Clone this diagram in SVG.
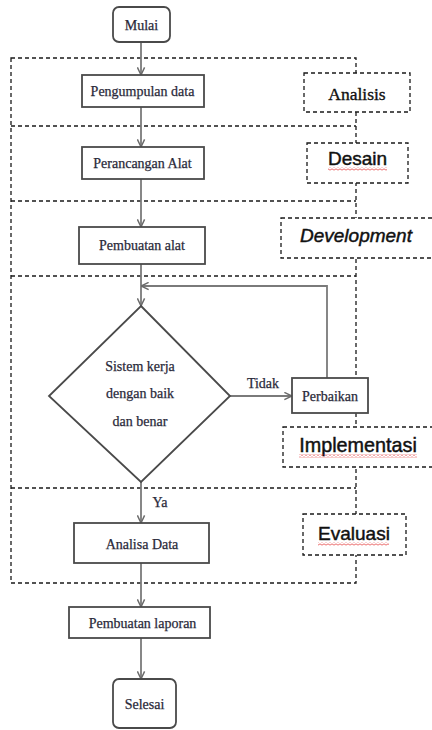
<svg xmlns="http://www.w3.org/2000/svg" width="432" height="730" viewBox="0 0 432 730">
<style>
.node{fill:#fff;stroke:#4a4a4a;stroke-width:1.8}
.nt{font-family:"Liberation Serif","Times New Roman",serif;font-size:14px;fill:#2a2a3a;stroke:#2a2a3a;stroke-width:0.25;text-anchor:middle}
.dash{fill:none;stroke:#1a1a1a;stroke-width:1.3;stroke-dasharray:4 3}
.phase{fill:#fff;stroke:#1a1a1a;stroke-width:1.3;stroke-dasharray:4 3}
.pt{font-family:"Liberation Sans",Arial,sans-serif;font-size:19px;fill:#111;stroke:#111;stroke-width:0.45;text-anchor:middle}
.conn{fill:none;stroke:#7a7a7a;stroke-width:1.8}
.lbl{font-family:"Liberation Serif","Times New Roman",serif;font-size:14px;fill:#2a2a3a;stroke:#2a2a3a;stroke-width:0.25;text-anchor:middle}
</style>
<defs>
<marker id="arr" viewBox="0 0 10 10" refX="9.5" refY="5" markerWidth="9" markerHeight="9" markerUnits="userSpaceOnUse" orient="auto">
<path d="M1,1 L9.5,5 L1,9" fill="none" stroke="#6a6a6a" stroke-width="1.6"/>
</marker>
<pattern id="squig" width="4" height="3" patternUnits="userSpaceOnUse">
<path d="M0,0.5 L2,2.5 L4,0.5" fill="none" stroke="#e02020" stroke-width="0.9"/>
</pattern>
</defs>
<rect width="432" height="730" fill="#fff"/>

<g id="regions">
<path class="dash" d="M11,58 V583 H356 V58 Z"/>
<path class="dash" d="M11,126 H356 M11,201 H356 M11,276 H356 M11,488 H356"/>
</g>

<g id="connectors">
<path class="conn" d="M141,42 V75" marker-end="url(#arr)"/>
<path class="conn" d="M141,107 V147" marker-end="url(#arr)"/>
<path class="conn" d="M141,179 V227" marker-end="url(#arr)"/>
<path class="conn" d="M141,264 V306" marker-end="url(#arr)"/>
<path class="conn" d="M230,396 H292" marker-end="url(#arr)"/>
<path class="conn" d="M327,378 V286 H141" marker-end="url(#arr)"/>
<path class="conn" d="M141,482 V523" marker-end="url(#arr)"/>
<path class="conn" d="M141,563 V607" marker-end="url(#arr)"/>
<path class="conn" d="M141,638 V679" marker-end="url(#arr)"/>
<text class="lbl" x="263" y="388">Tidak</text>
<text class="lbl" x="160" y="507">Ya</text>
</g>

<g id="mulai">
<rect class="node" x="113" y="7" width="57" height="35" rx="6"/>
<text class="nt" x="141.5" y="30">Mulai</text>
</g>
<g id="pengumpulan">
<rect class="node" x="82" y="75" width="122" height="32"/>
<text class="nt" x="142.5" y="96">Pengumpulan data</text>
</g>
<g id="perancangan">
<rect class="node" x="82" y="147" width="122" height="32"/>
<text class="nt" x="142.5" y="168">Perancangan Alat</text>
</g>
<g id="pembuatan-alat">
<rect class="node" x="79" y="227" width="126" height="37"/>
<text class="nt" x="142" y="250">Pembuatan alat</text>
</g>
<g id="keputusan">
<polygon class="node" points="141,306 230,396 141,482 49,396"/>
<text class="nt" x="140" y="371">Sistem kerja</text>
<text class="nt" x="140" y="398">dengan baik</text>
<text class="nt" x="140" y="426">dan benar</text>
</g>
<g id="perbaikan">
<rect class="node" x="292" y="378" width="76" height="35"/>
<text class="nt" x="330" y="401">Perbaikan</text>
</g>
<g id="analisa-data">
<rect class="node" x="74" y="523" width="135" height="40"/>
<text class="nt" x="142" y="549">Analisa Data</text>
</g>
<g id="pembuatan-laporan">
<rect class="node" x="69" y="607" width="141" height="31"/>
<text class="nt" x="142.5" y="628">Pembuatan laporan</text>
</g>
<g id="selesai">
<rect class="node" x="113" y="679" width="63" height="49" rx="6"/>
<text class="nt" x="144.5" y="709">Selesai</text>
</g>

<g id="analisis">
<rect class="phase" x="304" y="73" width="106" height="39"/>
<text x="357" y="100" style="font-family:'Liberation Serif','Times New Roman',serif;font-size:17.5px;fill:#111;stroke:#111;stroke-width:0.35;text-anchor:middle">Analisis</text>
</g>
<g id="desain">
<rect class="phase" x="307" y="143" width="101" height="40"/>
<text class="pt" x="357.5" y="165">Desain</text>
<rect x="328" y="167.5" width="59" height="3" fill="url(#squig)"/>
</g>
<g id="development">
<rect class="phase" x="281" y="218" width="160" height="40"/>
<text class="pt" x="356" y="242" font-style="italic">Development</text>
</g>
<g id="implementasi">
<rect class="phase" x="283" y="427" width="160" height="40"/>
<text class="pt" x="358" y="452" style="font-size:19.8px">Implementasi</text>
<rect x="299" y="454.5" width="118" height="3" fill="url(#squig)"/>
</g>
<g id="evaluasi">
<rect class="phase" x="303" y="514" width="103" height="41"/>
<text class="pt" x="354" y="540">Evaluasi</text>
<rect x="318" y="542.5" width="71" height="3" fill="url(#squig)"/>
</g>
</svg>
